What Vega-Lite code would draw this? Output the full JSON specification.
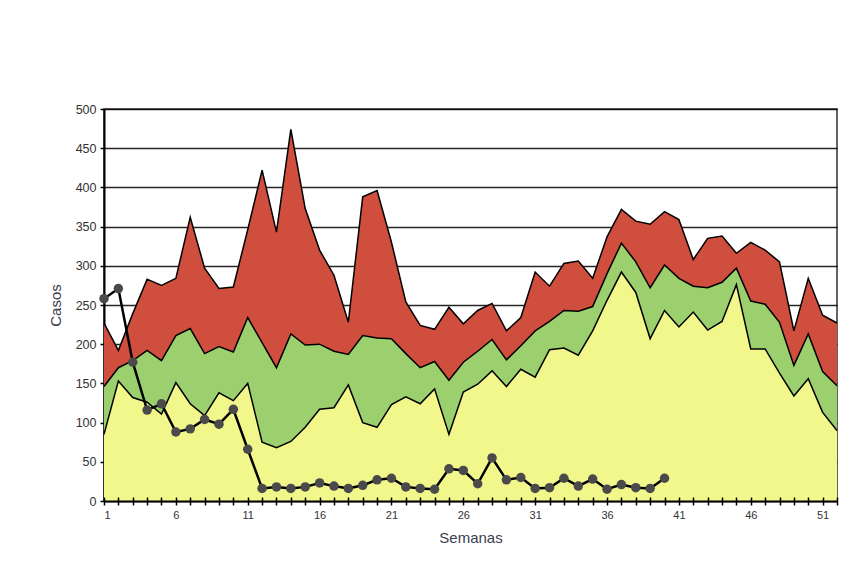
{
  "$schema": "https://vega.github.io/schema/vega-lite/v6.json",
  "autosize": {"type": "none"},
  "width": 733,
  "height": 392,
  "padding": {"left": 104, "top": 109, "right": 17, "bottom": 79},
  "background": "white",
  "config": {
    "view": {"stroke": "#333", "strokeWidth": 1.5},
    "axis": {
      "labelFont": "Liberation Sans",
      "labelFontSize": 12,
      "labelColor": "#333",
      "labelOverlap": false,
      "titleFont": "Liberation Sans",
      "titleFontSize": 15,
      "titleFontWeight": "normal",
      "titleColor": "#3b4050",
      "domainColor": "black",
      "domainWidth": 2,
      "tickColor": "black",
      "tickWidth": 1.5
    }
  },
  "data": {
    "values": [
      {"semana": 1, "q3": 227, "mediana": 146, "q1": 85, "casos": 258},
      {"semana": 2, "q3": 192, "mediana": 170, "q1": 153, "casos": 271},
      {"semana": 3, "q3": 239, "mediana": 179, "q1": 132, "casos": 177},
      {"semana": 4, "q3": 283, "mediana": 192, "q1": 126, "casos": 116},
      {"semana": 5, "q3": 275, "mediana": 179, "q1": 111, "casos": 124},
      {"semana": 6, "q3": 284, "mediana": 211, "q1": 151, "casos": 88},
      {"semana": 7, "q3": 362, "mediana": 220, "q1": 124, "casos": 92},
      {"semana": 8, "q3": 297, "mediana": 188, "q1": 109, "casos": 104},
      {"semana": 9, "q3": 271, "mediana": 197, "q1": 138, "casos": 98},
      {"semana": 10, "q3": 273, "mediana": 190, "q1": 128, "casos": 117},
      {"semana": 11, "q3": 346, "mediana": 234, "q1": 150, "casos": 66},
      {"semana": 12, "q3": 422, "mediana": 202, "q1": 75, "casos": 16},
      {"semana": 13, "q3": 343, "mediana": 170, "q1": 68, "casos": 18},
      {"semana": 14, "q3": 474, "mediana": 213, "q1": 76, "casos": 16},
      {"semana": 15, "q3": 373, "mediana": 199, "q1": 94, "casos": 18},
      {"semana": 16, "q3": 320, "mediana": 200, "q1": 117, "casos": 23},
      {"semana": 17, "q3": 288, "mediana": 191, "q1": 119, "casos": 19},
      {"semana": 18, "q3": 228, "mediana": 187, "q1": 148, "casos": 16},
      {"semana": 19, "q3": 388, "mediana": 211, "q1": 100, "casos": 20},
      {"semana": 20, "q3": 396, "mediana": 208, "q1": 94, "casos": 27},
      {"semana": 21, "q3": 330, "mediana": 207, "q1": 123, "casos": 29},
      {"semana": 22, "q3": 254, "mediana": 188, "q1": 133, "casos": 18},
      {"semana": 23, "q3": 224, "mediana": 170, "q1": 124, "casos": 16},
      {"semana": 24, "q3": 219, "mediana": 178, "q1": 143, "casos": 15},
      {"semana": 25, "q3": 247, "mediana": 154, "q1": 85, "casos": 41},
      {"semana": 26, "q3": 226, "mediana": 177, "q1": 139, "casos": 39},
      {"semana": 27, "q3": 243, "mediana": 191, "q1": 149, "casos": 22},
      {"semana": 28, "q3": 252, "mediana": 206, "q1": 166, "casos": 55},
      {"semana": 29, "q3": 217, "mediana": 180, "q1": 146, "casos": 27},
      {"semana": 30, "q3": 234, "mediana": 198, "q1": 168, "casos": 30},
      {"semana": 31, "q3": 292, "mediana": 217, "q1": 158, "casos": 16},
      {"semana": 32, "q3": 274, "mediana": 229, "q1": 193, "casos": 17},
      {"semana": 33, "q3": 303, "mediana": 243, "q1": 195, "casos": 29},
      {"semana": 34, "q3": 306, "mediana": 242, "q1": 186, "casos": 19},
      {"semana": 35, "q3": 284, "mediana": 248, "q1": 217, "casos": 28},
      {"semana": 36, "q3": 337, "mediana": 290, "q1": 256, "casos": 15},
      {"semana": 37, "q3": 372, "mediana": 329, "q1": 292, "casos": 21},
      {"semana": 38, "q3": 357, "mediana": 305, "q1": 266, "casos": 17},
      {"semana": 39, "q3": 353, "mediana": 272, "q1": 207, "casos": 16},
      {"semana": 40, "q3": 369, "mediana": 301, "q1": 243, "casos": 29},
      {"semana": 41, "q3": 359, "mediana": 284, "q1": 222, "casos": null},
      {"semana": 42, "q3": 308, "mediana": 274, "q1": 241, "casos": null},
      {"semana": 43, "q3": 335, "mediana": 272, "q1": 218, "casos": null},
      {"semana": 44, "q3": 338, "mediana": 279, "q1": 229, "casos": null},
      {"semana": 45, "q3": 316, "mediana": 297, "q1": 276, "casos": null},
      {"semana": 46, "q3": 330, "mediana": 255, "q1": 194, "casos": null},
      {"semana": 47, "q3": 320, "mediana": 251, "q1": 194, "casos": null},
      {"semana": 48, "q3": 305, "mediana": 228, "q1": 163, "casos": null},
      {"semana": 49, "q3": 217, "mediana": 173, "q1": 134, "casos": null},
      {"semana": 50, "q3": 284, "mediana": 213, "q1": 156, "casos": null},
      {"semana": 51, "q3": 237, "mediana": 165, "q1": 113, "casos": null},
      {"semana": 52, "q3": 227, "mediana": 147, "q1": 90, "casos": null}
    ]
  },
  "resolve": {"axis": {"x": "independent"}},
  "layer": [
    {
      "mark": {"type": "area", "color": "#cf4e3d", "opacity": 1, "line": {"color": "black", "strokeWidth": 1.5}},
      "encoding": {
        "x": {
          "field": "semana",
          "type": "quantitative",
          "title": "Semanas",
          "scale": {"domain": [1, 52], "nice": false, "zero": false},
          "axis": {
            "orient": "bottom",
            "values": [1,2,3,4,5,6,7,8,9,10,11,12,13,14,15,16,17,18,19,20,21,22,23,24,25,26,27,28,29,30,31,32,33,34,35,36,37,38,39,40,41,42,43,44,45,46,47,48,49,50,51,52],
            "labelExpr": "(datum.value - 1) % 5 == 0 ? datum.label : ''",
            "grid": false,
            "tickSize": 4,
            "labelPadding": 4,
            "labelFontSize": 11,
            "titlePadding": 10,
            "zindex": 1
          }
        },
        "y": {
          "field": "q3",
          "type": "quantitative",
          "title": "Casos",
          "scale": {"domain": [0, 500], "nice": false},
          "axis": {
            "values": [0, 50, 100, 150, 200, 250, 300, 350, 400, 450, 500],
            "grid": true,
            "gridColor": "black",
            "gridWidth": 1.5,
            "gridOpacity": 0.85,
            "tickSize": 4,
            "labelPadding": 4,
            "labelFontSize": 12.5,
            "titlePadding": 12,
            "zindex": 0
          }
        }
      }
    },
    {
      "mark": {"type": "area", "color": "#9ccf6e", "opacity": 1, "line": {"color": "black", "strokeWidth": 1.5}},
      "encoding": {
        "x": {"field": "semana", "type": "quantitative", "axis": null},
        "y": {
          "field": "mediana",
          "type": "quantitative",
          "title": "Casos",
          "axis": {
            "values": [0, 50, 100, 150, 200, 250, 300, 350, 400, 450, 500],
            "grid": true,
            "gridColor": "black",
            "gridWidth": 1.5,
            "gridOpacity": 0.85,
            "tickSize": 4,
            "labelPadding": 4,
            "labelFontSize": 12.5,
            "titlePadding": 12,
            "zindex": 0
          }
        }
      }
    },
    {
      "mark": {"type": "area", "color": "#f2f78c", "opacity": 1, "line": {"color": "black", "strokeWidth": 1.5}},
      "encoding": {
        "x": {"field": "semana", "type": "quantitative", "axis": null},
        "y": {
          "field": "q1",
          "type": "quantitative",
          "title": "Casos",
          "axis": {
            "values": [0, 50, 100, 150, 200, 250, 300, 350, 400, 450, 500],
            "grid": true,
            "gridColor": "black",
            "gridWidth": 1.5,
            "gridOpacity": 0.85,
            "tickSize": 4,
            "labelPadding": 4,
            "labelFontSize": 12.5,
            "titlePadding": 12,
            "zindex": 0
          }
        }
      }
    },
    {
      "transform": [{"filter": "datum.casos != null"}],
      "mark": {
        "type": "line",
        "color": "black",
        "strokeWidth": 2.5,
        "point": {"filled": true, "color": "#4a4a4a", "size": 90, "opacity": 1}
      },
      "encoding": {
        "x": {
          "field": "semana",
          "type": "quantitative",
          "axis": {
            "orient": "bottom",
            "values": [1,2,3,4,5,6,7,8,9,10,11,12,13,14,15,16,17,18,19,20,21,22,23,24,25,26,27,28,29,30,31,32,33,34,35,36,37,38,39,40,41,42,43,44,45,46,47,48,49,50,51,52],
            "labels": false,
            "domain": false,
            "grid": false,
            "title": null,
            "tickSize": -4,
            "zindex": 1
          }
        },
        "y": {
          "field": "casos",
          "type": "quantitative",
          "title": "Casos",
          "axis": {
            "values": [0, 50, 100, 150, 200, 250, 300, 350, 400, 450, 500],
            "grid": true,
            "gridColor": "black",
            "gridWidth": 1.5,
            "gridOpacity": 0.85,
            "tickSize": 4,
            "labelPadding": 4,
            "labelFontSize": 12.5,
            "titlePadding": 12,
            "zindex": 0
          }
        }
      }
    }
  ]
}
